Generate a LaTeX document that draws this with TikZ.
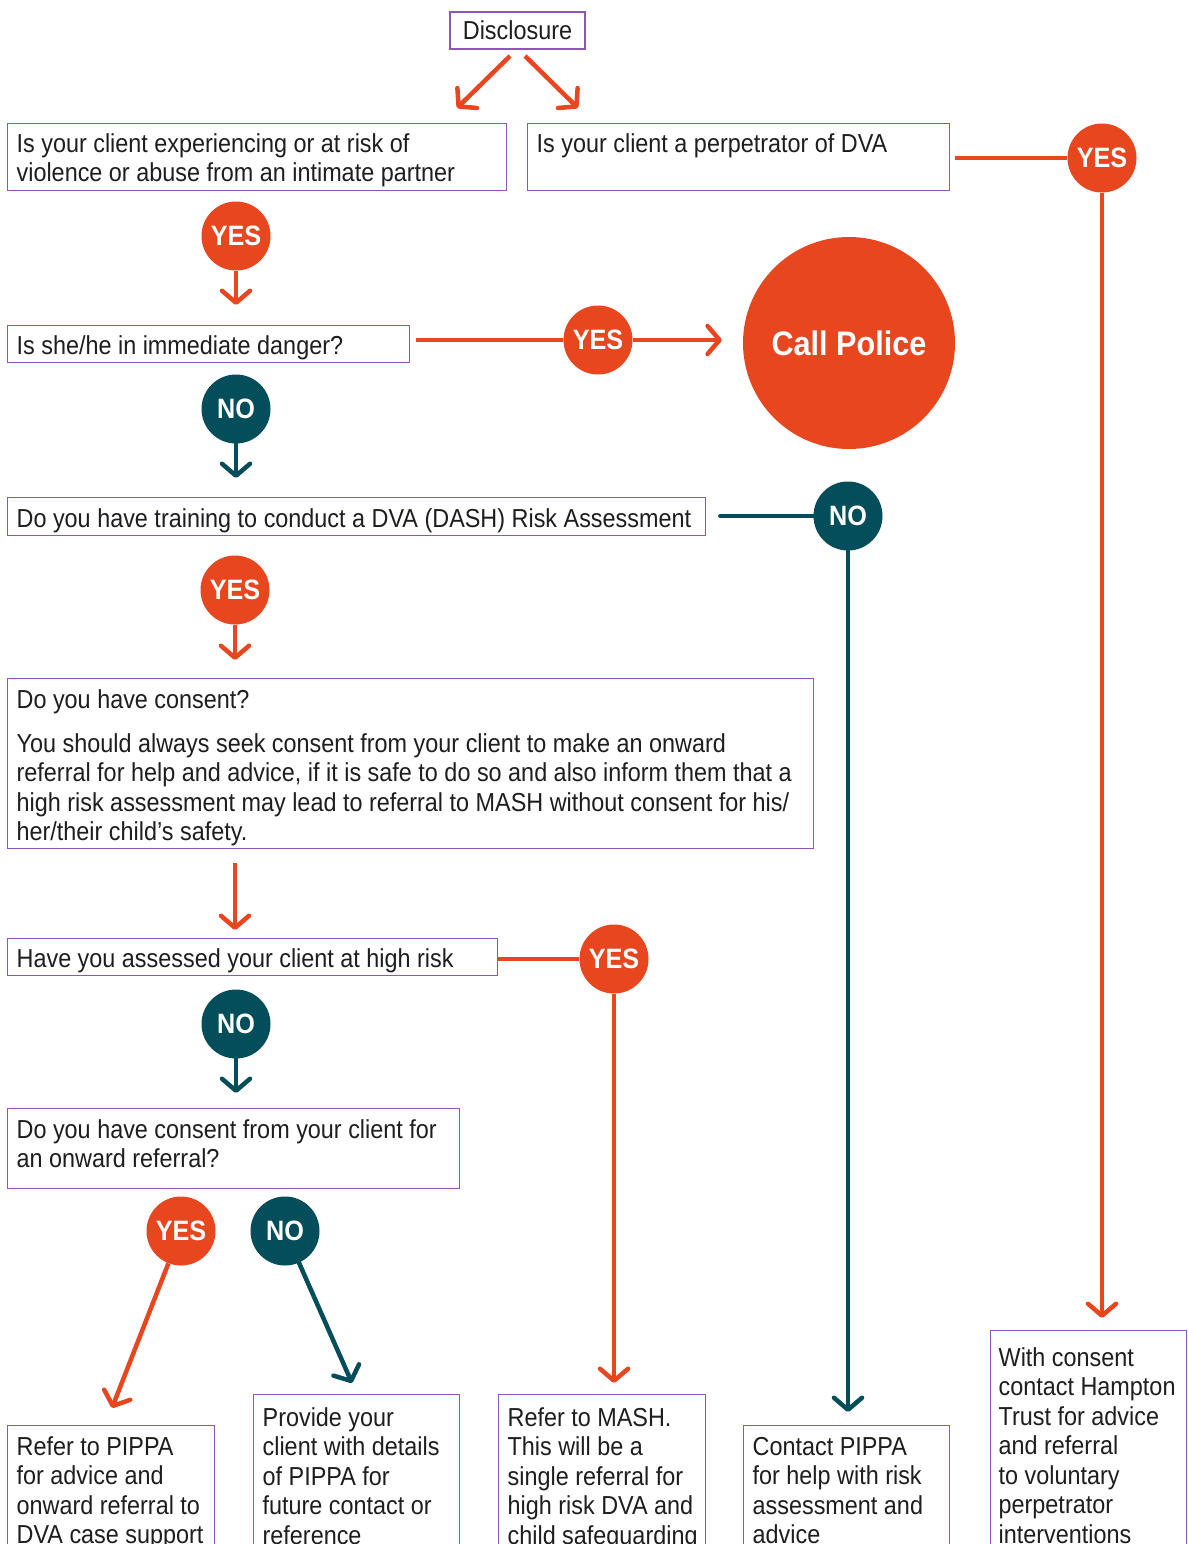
\documentclass[tikz,border=0pt]{standalone}
\usepackage{fontspec}
\setmainfont{Liberation Sans}[FakeStretch=0.9]
\usetikzlibrary{arrows.meta,backgrounds}
\definecolor{org}{HTML}{E8461E}
\definecolor{tealc}{HTML}{034E5A}
\definecolor{purp}{HTML}{8E55BD}
\definecolor{txt}{HTML}{1E1E1E}
\newcommand\bt[4]{\parbox[t][#2][t]{#1}{\vspace*{#3}\begin{tabular}{@{}l@{}}#4\end{tabular}}}
\tikzset{
  box/.style={draw=purp, line width=1.3pt, inner xsep=9pt, inner ysep=0pt, anchor=north west, text=txt, font=\fontsize{26}{29.5}\selectfont},
  yes/.style={circle, fill=org, minimum size=69pt, inner sep=0pt, text=white, font=\bfseries\fontsize{28}{30}\selectfont},
  no/.style={yes, fill=tealc},
  oline/.style={draw=org, line width=4.5pt},
  tline/.style={draw=tealc, line width=4.5pt, line cap=round},
  tip/.style={-{Straight Barb[length=12pt,width=28pt,round]}}
}
\begin{document}
\begin{tikzpicture}[x=1pt,y=-1pt]
\useasboundingbox (0,0) rectangle (1188,1544);
\begin{scope}[on background layer]
\fill[white] (0,0) rectangle (1188,1544);
\end{scope}
% boxes
\node[draw=purp, line width=1.3pt, minimum width=135pt, minimum height=37pt, inner sep=0pt, text=txt, font=\fontsize{26}{29.5}\selectfont] (disc) at (517.5,30.5) {Disclosure};
\node[box] (qa) at (7,123) {\bt{481pt}{67pt}{8pt}{Is your client experiencing or at risk of\\ violence or abuse from an intimate partner}};
\node[box] (qb) at (527,123) {\bt{404pt}{67pt}{8pt}{Is your client a perpetrator of DVA}};
\node[box] (qc) at (7,325) {\bt{384pt}{37pt}{8pt}{Is she/he in immediate danger?}};
\node[box] (qd) at (7,497) {\bt{680pt}{38pt}{9pt}{Do you have training to conduct a DVA (DASH) Risk Assessment}};
\node[box] (qe) at (7,678) {\bt{788pt}{170pt}{9pt}{Do you have consent?\\[14.5pt]
You should always seek consent from your client to make an onward\\
referral for help and advice, if it is safe to do so and also inform them that a\\
high risk assessment may lead to referral to MASH without consent for his/\\
her/their child’s safety.}};
\node[box] (qf) at (7,938) {\bt{472pt}{37pt}{8pt}{Have you assessed your client at high risk}};
\node[box] (qg) at (7,1108) {\bt{434pt}{80pt}{9pt}{Do you have consent from your client for\\ an onward referral?}};
\node[box] (h1) at (7,1425) {\bt{189pt}{200pt}{9pt}{Refer to PIPPA\\ for advice and\\ onward referral to\\ DVA case support}};
\node[box] (h2) at (253,1394) {\bt{188pt}{200pt}{11pt}{Provide your\\ client with details\\ of PIPPA for\\ future contact or\\ reference}};
\node[box] (h3) at (498,1394) {\bt{189pt}{200pt}{11pt}{Refer to MASH.\\ This will be a\\ single referral for\\ high risk DVA and\\ child safeguarding}};
\node[box] (h4) at (743,1425) {\bt{188pt}{200pt}{9pt}{Contact PIPPA\\ for help with risk\\ assessment and\\ advice}};
\node[box, inner xsep=8pt] (h5) at (990,1330) {\bt{180pt}{260pt}{15pt}{With consent\\ contact Hampton\\ Trust for advice\\ and referral\\ to voluntary\\ perpetrator\\ interventions}};
% circles
\node[yes] (y1) at (236,236) {YES};
\node[yes] (y2) at (598,340) {YES};
\node[circle, fill=org, minimum size=212pt, inner sep=0pt, text=white, font=\bfseries\fontsize{34}{36}\selectfont] (police) at (849,343) {Call Police};
\node[no] (n1) at (236,409) {NO};
\node[no] (n2) at (848,516) {NO};
\node[yes] (y3) at (1102,158) {YES};
\node[yes] (y4) at (235,590) {YES};
\node[yes] (y5) at (614,959) {YES};
\node[no] (n3) at (236,1024) {NO};
\node[yes] (y6) at (181,1231) {YES};
\node[no] (n4) at (285,1231) {NO};
\coordinate (dl0) at (510,56);
\coordinate (dl1) at (457,108);
\coordinate (dr0) at (525,56);
\coordinate (dr1) at (578,108);
\coordinate (h1t) at (112,1408);
\coordinate (h2t) at (352,1383);
% connectors
\begin{scope}[on background layer]
\draw[oline,tip] (dl0) -- (dl1);
\draw[oline,tip] (dr0) -- (dr1);
\draw[oline,tip,shorten >=20pt] (y1) -- (y1 |- qc.north);
\draw[oline,shorten <=6pt] (qc.east |- y2) -- (y2);
\draw[oline,tip,shorten >=21pt] (y2) -- (police.west |- y2);
\draw[tline,tip,shorten >=19pt] (n1) -- (n1 |- qd.north);
\draw[tline,shorten <=14pt] (qd.east |- n2) -- (n2);
\draw[tline,tip,shorten >=13pt] (n2) -- (n2 |- h4.north);
\draw[oline,shorten <=5pt] (qb.east |- y3) -- (y3);
\draw[oline,tip,shorten >=12pt] (y3) -- (y3 |- h5.north);
\draw[oline,tip,shorten >=18pt] (y4) -- (y4 |- qe.north);
\draw[oline,tip,shorten <=14pt,shorten >=8pt] (qe.south -| y4) -- (qf.north -| y4);
\draw[oline] (qf.east |- y5) -- (y5);
\draw[oline,tip,shorten >=11pt] (y5) -- (y5 |- h3.north);
\draw[tline,tip,shorten >=15pt] (n3) -- (n3 |- qg.north);
\draw[oline,tip] (y6) -- (h1t);
\draw[tline,tip] (n4) -- (h2t);
\end{scope}
\end{tikzpicture}
\end{document}
